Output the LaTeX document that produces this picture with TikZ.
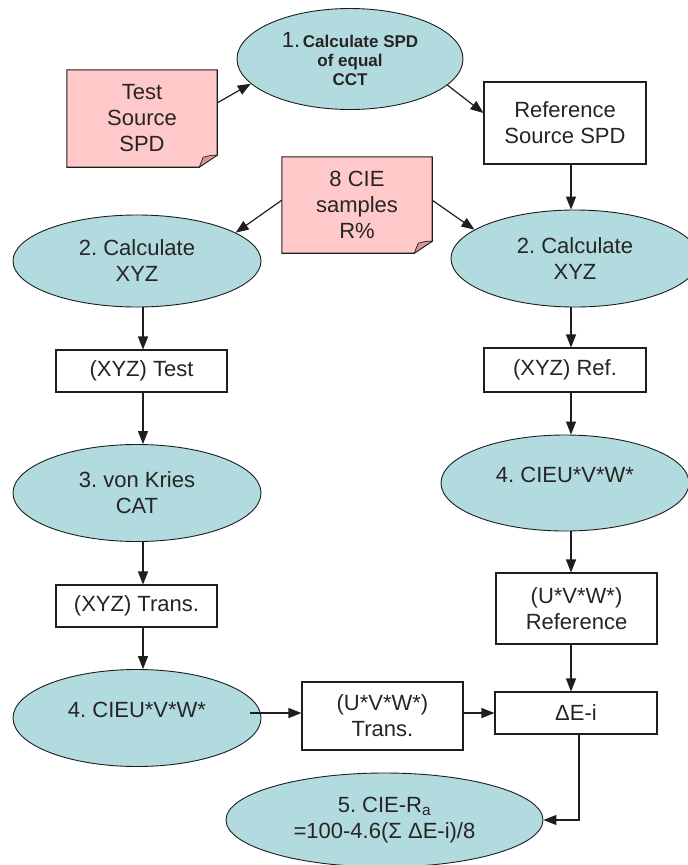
\documentclass[tikz,border=0pt]{standalone}
\usepackage{fontspec}
\setmainfont{Liberation Sans}
\frenchspacing
\usetikzlibrary{shapes.geometric,arrows.meta,calc,backgrounds}
\definecolor{ellfill}{RGB}{178,219,224}
\definecolor{notefill}{RGB}{255,201,201}
\definecolor{foldfill}{RGB}{214,150,150}
\definecolor{linec}{RGB}{30,30,30}
\definecolor{textc}{RGB}{40,36,36}
\begin{document}
\begin{tikzpicture}[x=1pt,y=-1pt,
  every node/.style={font=\fontsize{22}{26}\selectfont\frenchspacing, text=textc},
  ell/.style={ellipse, draw=linec, line width=0.9pt, fill=ellfill, inner sep=0pt, align=center,
              minimum width=248pt},
  boxn/.style={rectangle, draw=linec, line width=1.1pt, fill=white, inner sep=0pt, align=center},
  noten/.style={rectangle, inner sep=0pt, align=center, minimum width=150pt},
  notepath/.style={fill=notefill, draw=linec, line width=1.1pt},
  foldpath/.style={fill=foldfill, draw=linec, line width=0.7pt},
  arr/.style={-{Triangle[length=13pt,width=10pt]}, line width=1.2pt, draw=linec},
]
\clip (0,0) rectangle (688,865);

% column coordinates
\coordinate (lc) at (143,0);
\coordinate (rc) at (571,0);
\coordinate (dc) at (579,0);

% nodes
\node[ell, minimum width=226pt, minimum height=101pt,
      font=\fontsize{17}{19}\selectfont\bfseries] (e1) at (350,59)
  {{\fontsize{22}{19}\selectfont\mdseries 1.}\,Calculate SPD\\of equal\\CCT};
\node[noten, minimum height=97pt] (test) at (142,118.5) {Test\\Source\\SPD};
\node[boxn, minimum width=162pt, minimum height=82pt] (refsrc) at (565,123) {Reference\\Source SPD};
\node[noten, minimum height=96pt] (cie) at (357,205) {8 CIE\\samples\\R\%};

\node[ell, minimum height=92pt] (e2l) at (137,261) {2. Calculate\\XYZ};
\node[ell, minimum height=97pt] (e2r) at (575,258.5) {2. Calculate\\XYZ};

\node[boxn, minimum width=171pt, minimum height=42pt] (xyzt) at (141.5,371) {(XYZ) Test};
\node[boxn, minimum width=162pt, minimum height=44pt] (xyzref) at (565,370) {(XYZ) Ref.};

\node[ell, minimum height=97pt] (e3) at (137,493) {3. von Kries\\CAT};
\node[ell, minimum height=96pt, text depth=17pt] (e4r) at (565,483) {4. CIEU*V*W*};

\node[boxn, minimum width=161pt, minimum height=42pt] (xyztr) at (136.5,606) {(XYZ) Trans.};
\node[boxn, minimum width=161pt, minimum height=71pt] (uref) at (576.5,608.5) {(U*V*W*)\\Reference};

\node[ell, minimum height=97pt, text depth=17pt] (e4l) at (137,718) {4. CIEU*V*W*};
\node[boxn, minimum width=161pt, minimum height=68pt] (utrans) at (382.5,716) {(U*V*W*)\\Trans.};
\node[boxn, minimum width=162pt, minimum height=42pt] (dE) at (576,713) {ΔE-i};

\node[ell, minimum width=317pt, minimum height=94pt] (e5) at (384.5,820)
  {5. CIE-R\textsubscript{a}\\=100-4.6(Σ ΔE-i)/8};

% notes (background)
\begin{scope}[on background layer]
  \fill[white] (0,0) rectangle (688,865);
  \foreach \n in {test,cie}{
    \path[notepath] (\n.north west) -- (\n.north east) -- ($(\n.south east)+(0,-12)$)
      -- ($(\n.south east)+(-18,0)$) -- (\n.south west) -- cycle;
    \path[foldpath] ($(\n.south east)+(0,-12)$) .. controls ($(\n.south east)+(-6,-12)$) ..
      ($(\n.south east)+(-14,-10)$) -- ($(\n.south east)+(-18,0)$) -- cycle;
  }
\end{scope}

% connectors
\draw[arr] ($(test.north east)!0.34!(test.south east)$) -- (e1.194);
\draw[arr] (e1.-15) -- ($(refsrc.north west)!0.38!(refsrc.south west)$);
\draw[arr] ($(cie.north west)!0.45!(cie.south west)$) -- (e2l.16);
\draw[arr] ($(cie.north east)!0.45!(cie.south east)$) -- (e2r.164);

\draw[arr] (refsrc.south -| rc) -- (e2r.north -| rc);
\draw[arr] (e2r.south -| rc) -- (xyzref.north -| rc);
\draw[arr] (xyzref.south -| rc) -- (e4r.north -| rc);
\draw[arr] (e4r.south -| rc) -- (uref.north -| rc);
\draw[arr] (uref.south -| rc) -- (dE.north -| rc);

\draw[arr] (e2l.south -| lc) -- (xyzt.north -| lc);
\draw[arr] (xyzt.south -| lc) -- (e3.north -| lc);
\draw[arr] (e3.south -| lc) -- (xyztr.north -| lc);
\draw[arr] (xyztr.south -| lc) -- (e4l.north -| lc);

\coordinate (a1) at ($(e4l.east)+(-11,-5)$);
\draw[arr] (a1) -- (utrans.west |- a1);
\draw[arr] (utrans.east |- dE.west) -- (dE.west);
\draw[arr] (dE.south -| dc) |- (e5.east);
\end{tikzpicture}
\end{document}
